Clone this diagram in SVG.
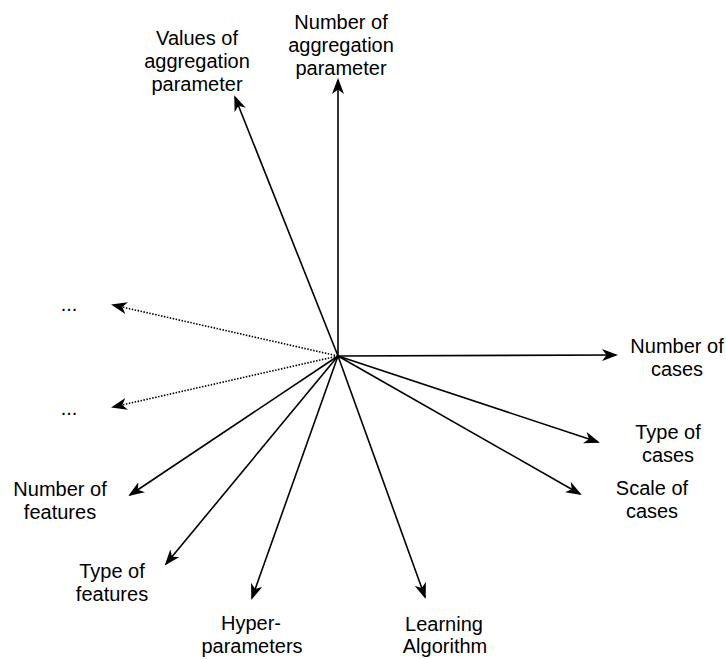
<svg xmlns="http://www.w3.org/2000/svg" width="726" height="659" viewBox="0 0 726 659">
  <style>
    .lbl { font-family: "Liberation Sans", Arial, sans-serif; font-size: 20px; fill: #000; text-anchor: middle; }
    .axis { stroke: #000; stroke-width: 1.6; fill: none; marker-end: url(#arrow); }
    .dotted { stroke-dasharray: 1.5 1.5; }
  </style>
  <defs>
    <marker id="arrow" markerUnits="userSpaceOnUse" markerWidth="16" markerHeight="12" viewBox="0 0 16 12" refX="14" refY="6" orient="auto">
      <path d="M0,0 L16,6 L0,12 L4.5,6 Z" fill="#000"/>
    </marker>
  </defs>

  <!-- connectors radiating from the common origin -->
  <g id="connectors">
    <line class="axis" x1="338" y1="356" x2="338" y2="80"/>
    <line class="axis" x1="338" y1="356" x2="235" y2="97"/>
    <line class="axis" x1="338" y1="356" x2="616" y2="355"/>
    <line class="axis" x1="338" y1="356" x2="598" y2="442"/>
    <line class="axis" x1="338" y1="356" x2="580" y2="494"/>
    <line class="axis" x1="338" y1="356" x2="425" y2="597"/>
    <line class="axis" x1="338" y1="356" x2="252" y2="598"/>
    <line class="axis" x1="338" y1="356" x2="166" y2="564"/>
    <line class="axis" x1="338" y1="356" x2="130" y2="495"/>
    <line class="axis dotted" x1="338" y1="356" x2="113" y2="305"/>
    <line class="axis dotted" x1="338" y1="356" x2="113" y2="407"/>
  </g>

  <g id="node-values-aggregation">
    <text class="lbl" x="197" y="45">Values of</text>
    <text class="lbl" x="197" y="68">aggregation</text>
    <text class="lbl" x="197" y="91">parameter</text>
  </g>
  <g id="node-number-aggregation">
    <text class="lbl" x="341" y="29">Number of</text>
    <text class="lbl" x="341" y="52">aggregation</text>
    <text class="lbl" x="341" y="75">parameter</text>
  </g>
  <g id="node-number-cases">
    <text class="lbl" x="677" y="353">Number of</text>
    <text class="lbl" x="677" y="376">cases</text>
  </g>
  <g id="node-type-cases">
    <text class="lbl" x="668" y="439">Type of</text>
    <text class="lbl" x="668" y="462">cases</text>
  </g>
  <g id="node-scale-cases">
    <text class="lbl" x="652" y="495">Scale of</text>
    <text class="lbl" x="652" y="518">cases</text>
  </g>
  <g id="node-learning-algorithm">
    <text class="lbl" x="444" y="631">Learning</text>
    <text class="lbl" x="445" y="653">Algorithm</text>
  </g>
  <g id="node-hyperparameters">
    <text class="lbl" x="251" y="630">Hyper-</text>
    <text class="lbl" x="252" y="653">parameters</text>
  </g>
  <g id="node-type-features">
    <text class="lbl" x="112" y="578">Type of</text>
    <text class="lbl" x="112" y="601">features</text>
  </g>
  <g id="node-number-features">
    <text class="lbl" x="60" y="496">Number of</text>
    <text class="lbl" x="60" y="519">features</text>
  </g>
  <g id="node-more-upper">
    <text class="lbl" x="69" y="311">...</text>
  </g>
  <g id="node-more-lower">
    <text class="lbl" x="69" y="415">...</text>
  </g>
</svg>
